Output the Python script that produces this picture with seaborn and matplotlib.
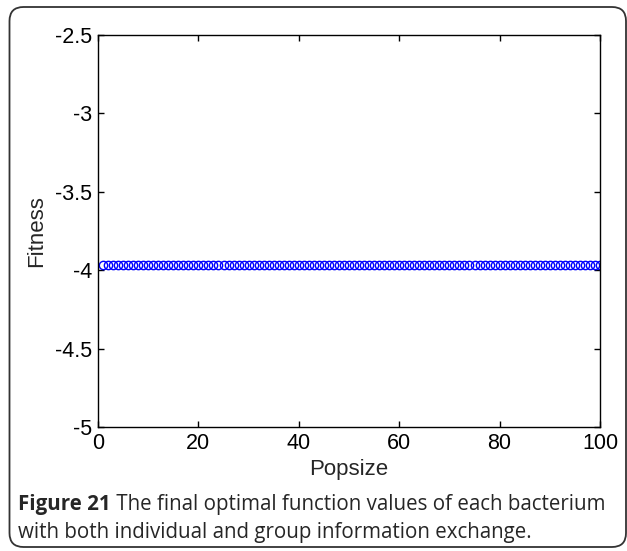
import numpy as np
import pandas as pd
import matplotlib
matplotlib.use("Agg")
import matplotlib.pyplot as plt
from matplotlib.patches import FancyBboxPatch
import seaborn as sns

# =========================
# Data
# =========================
popsize = list(range(1, 101))
fitness = [
    -3.97, -3.97, -3.97, -3.97, -3.97, -3.97, -3.97, -3.97, -3.97, -3.97,
    -3.97, -3.97, -3.97, -3.97, -3.97, -3.97, -3.97, -3.97, -3.97, -3.97,
    -3.97, -3.97, -3.97, -3.97, -3.97, -3.97, -3.97, -3.97, -3.97, -3.97,
    -3.97, -3.97, -3.97, -3.97, -3.97, -3.97, -3.97, -3.97, -3.97, -3.97,
    -3.97, -3.97, -3.97, -3.97, -3.97, -3.97, -3.97, -3.97, -3.97, -3.97,
    -3.97, -3.97, -3.97, -3.97, -3.97, -3.97, -3.97, -3.97, -3.97, -3.97,
    -3.97, -3.97, -3.97, -3.97, -3.97, -3.97, -3.97, -3.97, -3.97, -3.97,
    -3.97, -3.97, -3.97, -3.97, -3.97, -3.97, -3.97, -3.97, -3.97, -3.97,
    -3.97, -3.97, -3.97, -3.97, -3.97, -3.97, -3.97, -3.97, -3.97, -3.97,
    -3.97, -3.97, -3.97, -3.97, -3.97, -3.97, -3.97, -3.97, -3.97, -3.97,
]
x_ticks = [0, 20, 40, 60, 80, 100]
y_ticks = [-5, -4.5, -4, -3.5, -3, -2.5]
y_tick_labels = ["-5", "-4.5", "-4", "-3.5", "-3", "-2.5"]

caption_bold = "Figure 21"
caption_line1 = " The final optimal function values of each bacterium"
caption_line2 = "with both individual and group information exchange."

df = pd.DataFrame({"Popsize": popsize, "Fitness": fitness})

# =========================
# Style
# =========================
sns.set_style("ticks")
plt.rcParams["font.family"] = ["Liberation Sans", "DejaVu Sans"]
plt.rcParams["xtick.direction"] = "in"
plt.rcParams["ytick.direction"] = "in"

W, H = 627, 551
fig = plt.figure(figsize=(W / 100, H / 100), dpi=100)

# background frame + caption layer in pixel coordinates
frame_ax = fig.add_axes([0, 0, 1, 1], zorder=0)
frame_ax.set_xlim(0, W)
frame_ax.set_ylim(H, 0)
frame_ax.axis("off")
frame_ax.add_patch(FancyBboxPatch((9.5, 7), 616.5, 540,
                                  boxstyle="round,pad=0,rounding_size=14",
                                  facecolor="white", edgecolor="#333333", lw=1.3))

ax = fig.add_axes([98 / W, 1 - 427 / H, 502 / W, 392 / H], zorder=1)
sns.lineplot(data=df, x="Popsize", y="Fitness", ax=ax, linestyle="",
             marker="o", markersize=6, markerfacecolor="none",
             markeredgecolor="blue", markeredgewidth=1.0, color="blue")

ax.set_xlim(0, 100)
ax.set_ylim(-5, -2.5)
ax.set_xticks(x_ticks)
ax.set_yticks(y_ticks)
ax.set_yticklabels(y_tick_labels)
ax.tick_params(axis="both", which="both", top=True, right=True, length=4,
               width=1, labelsize=15.5, colors="black", pad=4)
for s in ax.spines.values():
    s.set_visible(True)
    s.set_linewidth(1)
    s.set_color("black")
ax.set_xlabel("Popsize", fontsize=16, labelpad=4)
ax.set_ylabel("Fitness", fontsize=16, labelpad=6)

# caption (bold lead-in followed by normal text)
cap_font = ["Open Sans", "DejaVu Sans"]
cap_size = 14.8
t1 = frame_ax.text(18, 510, caption_bold, fontsize=cap_size, fontweight="bold",
                   family=cap_font, va="baseline", ha="left")
fig.canvas.draw()
bb = t1.get_window_extent()
x_after = 18 + bb.width
frame_ax.text(x_after, 510, caption_line1, fontsize=cap_size, family=cap_font,
              va="baseline", ha="left")
frame_ax.text(18, 538, caption_line2, fontsize=cap_size, family=cap_font,
              va="baseline", ha="left")

fig.savefig("out.png", dpi=100)
